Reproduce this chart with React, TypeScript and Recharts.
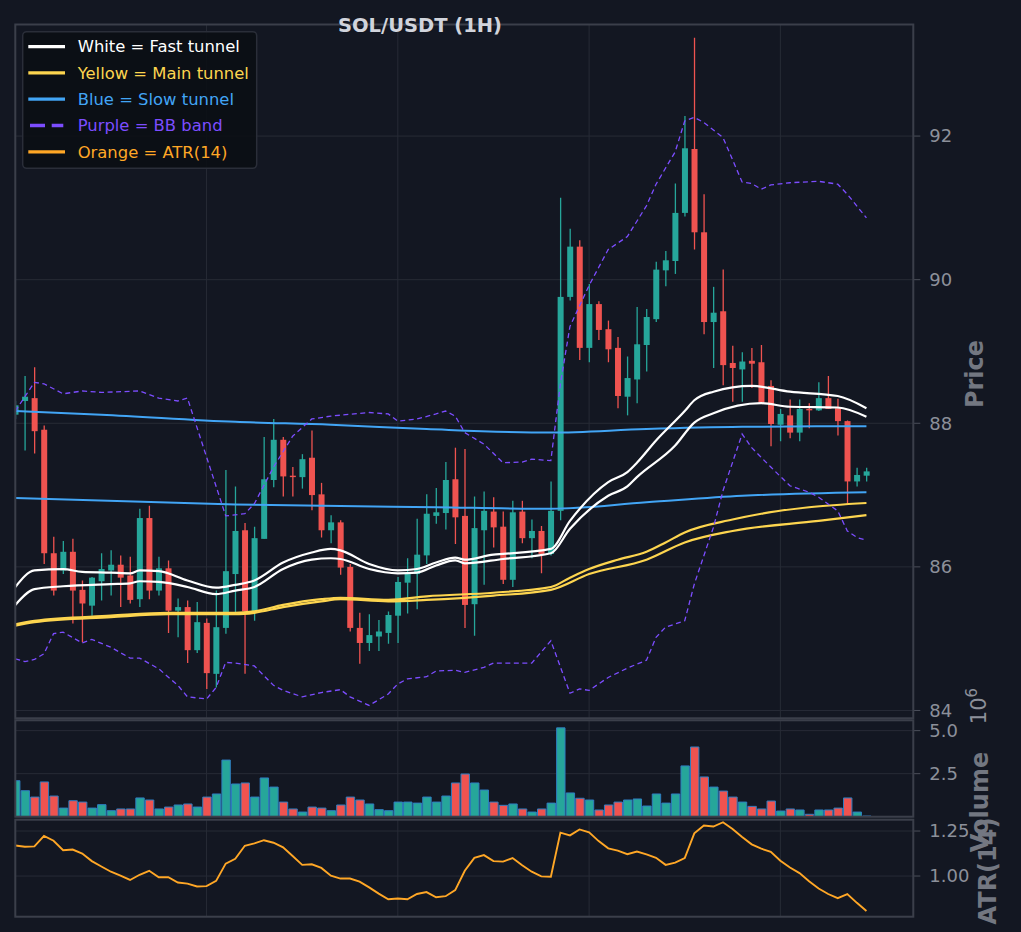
import { ComposedChart, Bar, Line, XAxis, YAxis, CartesianGrid, Cell } from 'recharts'

// candles (index 0..89)
const opens = [88.12, 88.31, 88.35, 87.91, 86.19, 85.95, 86.21, 85.68, 85.46, 85.80,
  85.95, 86.03, 85.88, 85.55, 86.68, 85.67, 85.98, 85.39, 85.44, 84.84,
  85.22, 84.51, 85.15, 85.90, 86.51, 85.38, 86.39, 87.21, 87.77, 87.27,
  87.25, 87.52, 87.01, 86.51, 86.62, 86.00, 85.15, 84.94, 85.03, 85.08,
  85.32, 85.78, 85.90, 86.16, 86.71, 86.75, 87.22, 86.71, 85.48, 86.51,
  86.77, 86.56, 85.82, 86.77, 86.40, 86.50, 86.18, 86.78, 89.76, 90.46,
  89.05, 89.66, 89.31, 89.05, 88.37, 88.61, 89.09, 89.45, 90.13, 90.26,
  90.93, 91.82, 90.66, 89.41, 89.56, 88.84, 88.75, 88.87, 88.85, 88.52,
  87.98, 88.11, 87.87, 88.20, 88.18, 88.35, 88.21, 88.03, 87.19, 87.27]
const highs = [88.31, 88.66, 88.78, 87.97, 86.42, 86.36, 86.39, 85.81, 85.86, 86.19,
  86.23, 86.16, 86.14, 86.81, 86.85, 86.14, 86.09, 85.56, 85.53, 85.51,
  85.28, 85.67, 87.35, 87.12, 86.61, 86.56, 87.81, 88.06, 87.81, 87.39,
  87.57, 87.90, 87.17, 86.72, 86.65, 86.04, 85.36, 85.34, 85.26, 85.38,
  85.86, 86.12, 86.67, 87.01, 87.10, 87.46, 87.66, 87.64, 86.98, 87.05,
  86.97, 86.77, 86.92, 86.92, 86.66, 86.57, 87.19, 91.14, 90.71, 90.55,
  89.94, 89.70, 89.43, 89.20, 88.93, 89.62, 89.59, 90.25, 90.40, 91.34,
  92.28, 93.37, 91.19, 89.90, 90.14, 89.08, 88.99, 89.05, 89.09, 88.60,
  88.20, 88.33, 88.33, 88.28, 88.57, 88.66, 88.34, 88.04, 87.38, 87.38]
const lows = [88.06, 87.62, 87.58, 86.04, 85.60, 85.90, 85.21, 84.95, 85.32, 85.53,
  85.60, 85.44, 85.49, 85.44, 85.55, 85.60, 85.08, 85.02, 84.66, 84.80,
  84.30, 84.32, 85.07, 85.35, 84.51, 85.25, 86.39, 87.11, 86.98, 86.98,
  87.09, 86.79, 86.41, 86.33, 85.89, 85.10, 84.65, 84.83, 84.83, 84.93,
  84.94, 85.35, 85.41, 86.04, 86.60, 86.52, 86.32, 85.15, 85.04, 85.75,
  86.27, 85.76, 85.72, 86.33, 86.12, 85.91, 86.16, 86.65, 89.71, 88.88,
  88.85, 89.16, 88.85, 88.21, 88.11, 88.28, 88.72, 89.41, 89.91, 90.08,
  90.88, 90.42, 89.24, 88.77, 88.53, 88.30, 88.30, 88.49, 88.28, 87.68,
  87.75, 87.79, 87.75, 87.93, 88.17, 88.20, 87.83, 86.88, 87.12, 87.19]
const closes = [88.25, 88.37, 87.89, 86.19, 85.67, 86.21, 85.67, 85.49, 85.85, 85.97,
  86.03, 85.85, 85.54, 86.68, 85.67, 85.98, 85.39, 85.44, 84.84, 85.23,
  84.52, 85.16, 85.94, 86.50, 85.38, 86.40, 87.22, 87.77, 87.26, 87.25,
  87.50, 87.00, 86.51, 86.62, 85.99, 85.15, 84.94, 85.05, 85.10, 85.33,
  85.79, 85.90, 86.17, 86.74, 86.76, 87.21, 86.69, 85.47, 86.54, 86.78,
  86.55, 85.82, 86.76, 86.40, 86.50, 86.18, 86.78, 89.76, 90.46, 89.05,
  89.66, 89.30, 89.03, 88.38, 88.63, 89.10, 89.48, 90.14, 90.27, 90.93,
  91.83, 90.66, 89.41, 89.54, 88.81, 88.77, 88.86, 88.83, 88.29, 87.99,
  88.13, 87.87, 88.20, 88.18, 88.35, 88.20, 88.03, 87.19, 87.28, 87.33]

// volume in millions
const volumes = [2.09, 1.51, 1.14, 2.02, 1.20, 0.50, 0.93, 0.85, 0.50, 0.70,
  0.35, 0.45, 0.45, 1.09, 0.97, 0.45, 0.56, 0.68, 0.74, 0.56,
  1.14, 1.32, 3.29, 1.90, 1.96, 1.14, 2.25, 1.72, 0.85, 0.45,
  0.27, 0.56, 0.50, 0.35, 0.68, 1.14, 0.97, 0.74, 0.41, 0.35,
  0.85, 0.85, 0.79, 1.14, 0.85, 1.20, 1.96, 2.48, 1.96, 1.55,
  0.85, 0.66, 0.74, 0.45, 0.27, 0.45, 0.79, 5.16, 1.38, 1.07,
  0.97, 0.39, 0.68, 0.85, 0.97, 1.03, 0.62, 1.32, 0.79, 1.32,
  2.95, 4.05, 2.31, 1.72, 1.49, 1.14, 0.85, 0.60, 0.45, 0.91,
  0.33, 0.45, 0.39, 0.14, 0.39, 0.39, 0.50, 1.09, 0.27, 0.04]

const atr14 = [1.170, 1.163, 1.165, 1.223, 1.196, 1.143, 1.147, 1.125, 1.083, 1.053,
  1.024, 1.002, 0.978, 1.007, 1.029, 0.993, 0.993, 0.964, 0.958, 0.942,
  0.944, 0.973, 1.069, 1.096, 1.168, 1.181, 1.199, 1.185, 1.159, 1.111,
  1.062, 1.065, 1.045, 1.002, 0.986, 0.986, 0.969, 0.937, 0.902, 0.871,
  0.875, 0.871, 0.900, 0.911, 0.882, 0.888, 0.922, 1.029, 1.101, 1.116,
  1.083, 1.080, 1.100, 1.060, 1.024, 0.998, 0.996, 1.241, 1.226, 1.259,
  1.243, 1.194, 1.154, 1.141, 1.121, 1.136, 1.120, 1.101, 1.062, 1.074,
  1.100, 1.237, 1.281, 1.275, 1.299, 1.261, 1.217, 1.176, 1.152, 1.134,
  1.085, 1.047, 1.016, 0.971, 0.931, 0.900, 0.877, 0.900, 0.851, 0.806]

// tunnel / band lines as [candle index, price]
const whiteUpper = [[0, 85.72], [2, 85.95], [5, 85.97], [7, 85.93], [10, 85.92], [12, 85.91], [13, 85.95], [15, 85.94], [18, 85.81], [21, 85.71], [23, 85.75], [25, 85.81], [28, 86.06], [31, 86.20], [33, 86.25], [34, 86.23], [37, 86.04], [40, 85.95], [42, 85.97], [44, 86.06], [46, 86.13], [47, 86.10], [50, 86.17], [51, 86.18], [56, 86.25], [58, 86.64], [62, 87.18], [64, 87.32], [65, 87.45], [67, 87.76], [70, 88.17], [71, 88.32], [73, 88.44], [77, 88.52], [81, 88.44], [86, 88.38], [89, 88.21]]
const whiteLower = [[0, 85.47], [2, 85.69], [5, 85.73], [10, 85.76], [12, 85.77], [13, 85.80], [15, 85.79], [18, 85.72], [21, 85.62], [23, 85.67], [25, 85.72], [28, 85.97], [31, 86.10], [33, 86.12], [34, 86.11], [37, 85.97], [40, 85.91], [42, 85.92], [44, 86.02], [46, 86.09], [47, 86.05], [51, 86.11], [56, 86.19], [58, 86.53], [62, 86.99], [64, 87.12], [65, 87.25], [69, 87.69], [71, 88.01], [73, 88.14], [78, 88.28], [81, 88.23], [86, 88.22], [89, 88.09]]
const yellowUpper = [[0, 85.20], [2, 85.25], [10, 85.32], [16, 85.36], [23, 85.36], [25, 85.38], [28, 85.47], [32, 85.55], [34, 85.57], [39, 85.54], [43, 85.59], [50, 85.64], [56, 85.72], [58, 85.85], [60, 85.97], [63, 86.10], [66, 86.21], [68, 86.34], [70, 86.48], [75, 86.66], [78, 86.74], [83, 86.83], [89, 86.89]]
const yellowLower = [[0, 85.18], [2, 85.23], [10, 85.30], [16, 85.34], [23, 85.34], [25, 85.36], [28, 85.44], [32, 85.52], [34, 85.55], [39, 85.52], [43, 85.54], [50, 85.60], [56, 85.68], [60, 85.90], [66, 86.10], [70, 86.34], [75, 86.50], [84, 86.64], [89, 86.72]]
const blueUpper = [[0, 88.17], [9, 88.12], [23, 88.02], [33, 87.98], [43, 87.92], [56, 87.87], [66, 87.92], [76, 87.95], [89, 87.96]]
const blueLower = [[0, 86.96], [23, 86.87], [44, 86.83], [56, 86.81], [66, 86.90], [76, 86.99], [89, 87.04]]
const bbUpper = [[0, 88.17], [2, 88.57], [3, 88.55], [5, 88.41], [7, 88.45], [9, 88.43], [13, 88.45], [15, 88.35], [17, 88.31], [18, 88.35], [22, 86.71], [24, 86.74], [25, 86.88], [27, 87.39], [29, 87.82], [31, 88.06], [33, 88.10], [37, 88.15], [39, 88.13], [40, 88.03], [42, 88.06], [44, 88.13], [45, 88.17], [46, 88.10], [47, 87.87], [49, 87.71], [51, 87.45], [53, 87.46], [54, 87.50], [56, 87.48], [57, 88.55], [58, 89.35], [60, 89.92], [62, 90.42], [64, 90.60], [66, 91.03], [67, 91.33], [69, 91.78], [70, 92.21], [71, 92.26], [72, 92.19], [74, 91.98], [76, 91.36], [77, 91.34], [78, 91.26], [79, 91.32], [81, 91.35], [84, 91.37], [86, 91.33], [87, 91.19], [89, 90.86]]
const bbLower = [[0, 84.72], [1, 84.68], [2, 84.71], [3, 84.79], [4, 85.07], [5, 85.09], [7, 84.94], [8, 84.99], [10, 84.88], [12, 84.73], [13, 84.73], [15, 84.58], [17, 84.35], [18, 84.19], [20, 84.16], [21, 84.32], [22, 84.67], [23, 84.66], [25, 84.62], [27, 84.35], [28, 84.28], [30, 84.19], [32, 84.25], [34, 84.29], [35, 84.19], [37, 84.07], [39, 84.23], [40, 84.37], [41, 84.44], [43, 84.47], [44, 84.55], [46, 84.56], [47, 84.53], [49, 84.60], [50, 84.66], [52, 84.66], [54, 84.66], [56, 84.97], [58, 84.24], [59, 84.30], [60, 84.28], [62, 84.46], [64, 84.59], [66, 84.70], [67, 85.02], [68, 85.16], [70, 85.25], [71, 85.76], [73, 86.55], [74, 87.06], [76, 87.85], [77, 87.66], [79, 87.39], [81, 87.13], [83, 87.04], [84, 86.97], [86, 86.78], [87, 86.50], [88, 86.41], [89, 86.37]]

const priceTicks = [84, 86, 88, 90, 92]
const volTicks = [2.5, 5.0]
const atrTicks = [1.0, 1.25]
const xGrid = [20, 40, 60, 80]

const BG = '#131722'
const UP = '#26a69a'
const DOWN = '#ef5350'
const GRID = '#272b36'
const FRAME = '#3b3f4a'
const TICK = '#8c909a'
const LABEL = '#737781'
const FONT = 'DejaVu Sans, sans-serif'

const legendItems = [
  { label: 'White = Fast tunnel', color: '#ffffff' },
  { label: 'Yellow = Main tunnel', color: '#fdd54f' },
  { label: 'Blue = Slow tunnel', color: '#42a5f5' },
  { label: 'Purple = BB band', color: '#7c4dff', dashed: true },
  { label: 'Orange = ATR(14)', color: '#ffa726' },
]

const candles = opens.map((o, i) => ({
  i, o, h: highs[i], l: lows[i], c: closes[i],
  range: [lows[i], highs[i]],
  vol: volumes[i],
  atr: atr14[i],
}))

const toSeries = (pts: number[][]) => pts.map(([i, v]) => ({ i, v }))

function Candle(props: any) {
  const { x, y, width, height, payload } = props
  const { o, h, l, c } = payload
  const top = Math.min(y, y + height)
  const span = Math.abs(height)
  const py = (v: number) => (h === l ? top : top + ((h - v) / (h - l)) * span)
  const color = c >= o ? UP : DOWN
  const cx = x + width / 2
  const bTop = py(Math.max(o, c))
  const bBot = py(Math.min(o, c))
  return (
    <g>
      <line x1={cx} x2={cx} y1={top} y2={top + span} stroke={color} strokeWidth={1.3} />
      <rect x={x} y={bTop} width={width} height={Math.max(bBot - bTop, 1.2)} fill={color} />
    </g>
  )
}

const W = 1021
const H = 932
const LEFT = 15.3
const RIGHT = 913.3
const AXIS_W = 60
const boxes = {
  price: { top: 24.5, bottom: 718.3 },
  vol: { top: 720.3, bottom: 816.7 },
  atr: { top: 819.7, bottom: 916.7 },
}
const margin = (b: { top: number, bottom: number }) => ({ top: b.top, bottom: H - b.bottom, left: LEFT, right: W - RIGHT - AXIS_W })

const xAxis = <XAxis type="number" dataKey="i" domain={[0, 93.9]} ticks={xGrid} allowDataOverflow hide />
const yTick = { fill: TICK, fontSize: 18, fontFamily: FONT }

function lineOf(pts: number[][], color: string, width: number, dashed = false) {
  return (
    <Line data={toSeries(pts)} dataKey="v" type={dashed ? 'linear' : 'monotone'} stroke={color}
      strokeWidth={width} strokeDasharray={dashed ? '5 3.5' : undefined} dot={false}
      activeDot={false} isAnimationActive={false} />
  )
}

export default function App() {
  const layer: React.CSSProperties = { position: 'absolute', left: 0, top: 0 }
  return (
    <div style={{ position: 'absolute', left: 0, top: 0, width: W, height: H, background: BG, overflow: 'hidden' }}>
      <div style={layer}>
        <ComposedChart width={W} height={H} data={candles} margin={margin(boxes.price)}>
          <CartesianGrid stroke={GRID} strokeWidth={1} />
          {xAxis}
          <YAxis orientation="right" type="number" domain={[83.891, 93.554]} ticks={priceTicks} allowDataOverflow
            width={AXIS_W} axisLine={false} tickLine={{ stroke: '#4b4f5a' }} tickSize={7} tickMargin={9} tick={yTick} />
          <Bar dataKey="range" barSize={6} shape={<Candle />} isAnimationActive={false} />
          {lineOf(blueUpper, '#42a5f5', 2)}
          {lineOf(blueLower, '#42a5f5', 2)}
          {lineOf(yellowUpper, '#fdd54f', 2.2)}
          {lineOf(yellowLower, '#fdd54f', 2.2)}
          {lineOf(whiteUpper, '#ffffff', 2.2)}
          {lineOf(whiteLower, '#ffffff', 2.2)}
          {lineOf(bbUpper, '#7c4dff', 1.3, true)}
          {lineOf(bbLower, '#7c4dff', 1.3, true)}
        </ComposedChart>
      </div>
      <div style={layer}>
        <ComposedChart width={W} height={H} data={candles} margin={margin(boxes.vol)}>
          <CartesianGrid stroke={GRID} strokeWidth={1} />
          {xAxis}
          <YAxis orientation="right" type="number" domain={[0, 5.6]} ticks={volTicks} allowDataOverflow
            width={AXIS_W} axisLine={false} tickLine={{ stroke: '#4b4f5a' }} tickSize={7} tickMargin={9} tick={yTick}
            tickFormatter={(v: number) => v.toFixed(1)} />
          <Bar dataKey="vol" barSize={8.4} stroke="#2f7dc0" strokeWidth={1} isAnimationActive={false}>
            {candles.map((d) => <Cell key={d.i} fill={d.c >= d.o ? UP : DOWN} />)}
          </Bar>
        </ComposedChart>
      </div>
      <div style={layer}>
        <ComposedChart width={W} height={H} data={candles} margin={margin(boxes.atr)}>
          <CartesianGrid stroke={GRID} strokeWidth={1} />
          {xAxis}
          <YAxis orientation="right" type="number" domain={[0.774, 1.313]} ticks={atrTicks} allowDataOverflow
            width={AXIS_W} axisLine={false} tickLine={{ stroke: '#4b4f5a' }} tickSize={7} tickMargin={9} tick={yTick}
            tickFormatter={(v: number) => v.toFixed(2)} />
          <Line dataKey="atr" type="linear" stroke="#ffa726" strokeWidth={1.9} dot={false} activeDot={false} isAnimationActive={false} />
        </ComposedChart>
      </div>
      <svg width={W} height={H} style={{ ...layer, pointerEvents: 'none' }} fontFamily={FONT}>
        {Object.values(boxes).map((b, k) => (
          <rect key={k} x={LEFT} y={b.top} width={RIGHT - LEFT} height={b.bottom - b.top} fill="none" stroke={FRAME} strokeWidth={2} />
        ))}
        <text x={420} y={31.5} textAnchor="middle" fontSize={19.5} fontWeight="bold" fill="#d1d4dc">SOL/USDT (1H)</text>
        <rect x={22.7} y={31.7} width={234} height={136.6} rx={4} fill="#0b0e14" fillOpacity={0.9} stroke="#2a2e39" strokeWidth={1.5} />
        {legendItems.map((it, k) => {
          const y = 46.6 + k * 26.3
          return (
            <g key={it.label}>
              <line x1={it.dashed ? 30 : 28.3} x2={it.dashed ? 63.3 : 65} y1={y} y2={y} stroke={it.color} strokeWidth={3.3}
                strokeDasharray={it.dashed ? '15 6.7' : undefined} />
              <text x={77.7} y={y + 5.8} fontSize={16.4} fill={it.color}>{it.label}</text>
            </g>
          )
        })}
        <text transform="translate(975 374) rotate(-90)" textAnchor="middle" dy="0.35em" fontSize={24} fontWeight="bold" fill={LABEL}>Price</text>
        <text transform="translate(980 802) rotate(-90)" textAnchor="middle" dy="0.35em" fontSize={24} fontWeight="bold" fill={LABEL}>Volume</text>
        <text transform="translate(988 871) rotate(-90)" textAnchor="middle" dy="0.35em" fontSize={24} fontWeight="bold" fill={LABEL}>ATR(14)</text>
        <text transform="translate(979 706) rotate(-90)" textAnchor="middle" dy="0.35em" fontSize={21} fill={TICK}>
          10<tspan dy="-9" fontSize={15}>6</tspan>
        </text>
      </svg>
    </div>
  )
}
